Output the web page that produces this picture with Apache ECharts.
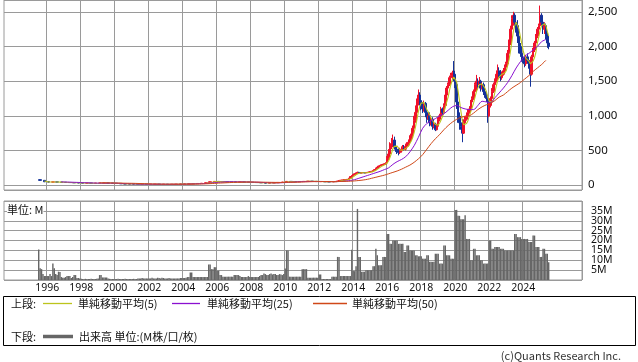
<!DOCTYPE html>
<html><head><meta charset="utf-8">
<script src="https://cdn.jsdelivr.net/npm/echarts@6/dist/echarts.min.js"></script>
<style>html,body{margin:0;padding:0;background:#fff}#c{width:638px;height:362px}</style>
</head><body><div id="c"></div>
<script>
// ---- axis categories: months 1993-07 .. 2027-06
const axisStart = [1993, 7];
const axisMonths = 408;
const yearLabels = [1996,1998,2000,2002,2004,2006,2008,2010,2012,2014,2016,2018,2020,2022,2024];
const priceTicks = [0,500,1000,1500,2000,2500];
const volumeTicks = [5,10,15,20,25,30,35];

// ---- early candles (quarterly, starting 1995-08)
const earlyStart = [1995, 8];
const earlyOpen  = [80,70,50,45,48,45,42,40,38,35,33,30,30,28,30,30,32,30,28,25,20,18,17,16,15,15,14,14,14,13,13,12,13,15,17,18,20,22,25,28,35,50,55,52,50,48,46,45,45,44,42,40,38,35,30,32,35,40,45,55,52,50,52,55,58,55,52,52,50,48];
const earlyClose = [70,50,45,48,45,42,40,38,35,33,30,30,28,30,30,32,30,28,25,20,18,17,16,15,15,14,14,14,13,13,12,13,15,17,18,20,22,25,28,35,50,55,52,50,48,46,45,45,44,42,40,38,35,30,32,35,40,45,55,52,50,52,55,58,55,52,52,50,48,52];
const earlyLow   = [65,45,40,42,42,38,36,34,32,30,28,27,26,27,28,28,28,26,23,18,16,15,14,14,13,13,12,12,12,11,11,11,12,14,16,17,19,21,24,27,33,48,50,48,46,44,43,43,42,40,38,35,32,28,29,33,38,43,50,50,48,49,52,54,52,50,50,47,46,47];
const earlyHigh  = [85,72,52,50,50,47,44,42,40,37,35,33,31,32,33,34,34,32,29,26,22,20,18,17,17,16,16,16,15,15,14,14,16,18,20,22,24,27,30,38,54,58,57,54,51,50,48,48,47,46,44,42,39,36,35,38,42,48,58,57,54,55,58,61,60,56,55,54,52,54];

// ---- monthly candles from 2013-01 to 2025-07
const mainStart = [2013, 1];
const open = [
52,55,60,68,72,75,75,78,80,85,100,125,
140,150,165,175,185,180,178,180,182,178,182,185,
190,195,200,210,225,245,260,275,285,295,300,310,
320,380,450,550,600,650,550,520,500,470,500,520,
540,520,560,580,620,680,740,820,930,1050,1200,1300,
1220,1150,1100,1180,1050,950,1000,900,950,850,880,800,
850,950,1000,1100,1050,1150,1300,1400,1450,1550,1580,1620,
1600,1450,1200,950,900,850,750,900,950,1000,1050,1100,
1200,1250,1350,1450,1500,1450,1500,1400,1450,1350,1300,1250,
1000,1150,1250,1350,1450,1500,1600,1650,1600,1550,1600,1650,
1700,1750,1900,2050,2250,2400,2450,2350,2300,2150,2000,1900,
1850,1800,1750,1850,1800,1750,1600,1850,1950,2050,2150,2250,
2300,2450,2350,2250,2300,2150,2050];
const close = [
55,60,68,72,75,75,78,80,85,100,125,140,
150,165,175,185,180,178,180,182,178,182,185,190,
195,200,210,225,245,260,275,285,295,300,310,320,
380,450,550,600,650,550,520,500,470,500,520,540,
520,560,580,620,680,740,820,930,1050,1200,1300,1220,
1150,1100,1180,1050,950,1000,900,950,850,880,800,850,
950,1000,1100,1050,1150,1300,1400,1450,1550,1580,1620,1600,
1450,1200,950,900,850,750,900,950,1000,1050,1100,1200,
1250,1350,1450,1500,1450,1500,1400,1450,1350,1300,1250,1000,
1150,1250,1350,1450,1500,1600,1650,1600,1550,1600,1650,1700,
1750,1900,2050,2250,2400,2450,2350,2300,2150,2000,1900,1850,
1800,1750,1850,1800,1750,1600,1850,1950,2050,2150,2250,2300,
2450,2350,2250,2300,2150,2050,2000];
const low = [
50,53,58,65,70,72,73,75,78,83,97,120,
135,145,160,168,172,170,172,175,172,172,176,180,
185,190,196,205,220,240,255,268,278,285,292,300,
300,360,420,520,560,520,480,450,430,450,470,490,
500,500,540,560,600,650,720,800,900,1000,1150,1150,
1080,1040,1060,980,900,920,850,860,800,820,780,790,
830,920,980,1000,1020,1130,1280,1380,1430,1500,1520,1500,
1400,1100,900,800,800,620,740,880,930,980,1030,1080,
1180,1230,1330,1350,1380,1400,1350,1380,1300,1260,1200,900,
980,1120,1230,1330,1420,1480,1550,1550,1500,1520,1580,1630,
1660,1720,1880,2020,2220,2300,2280,2200,2050,1900,1850,1780,
1760,1700,1720,1750,1680,1420,1580,1820,1920,2020,2120,2220,
2250,2300,2180,2180,2100,1980,1960];
const high = [
58,62,70,75,78,79,80,83,88,105,130,145,
160,170,182,195,192,186,186,188,186,188,192,196,
200,206,215,232,252,266,282,292,302,308,316,330,
420,520,620,680,730,700,600,540,530,540,560,580,
580,600,620,660,720,780,860,1000,1150,1250,1380,1340,
1280,1200,1220,1200,1100,1050,1050,1000,980,920,900,880,
980,1030,1130,1120,1180,1330,1430,1480,1580,1620,1650,1790,
1650,1500,1250,1050,1000,950,950,1000,1050,1100,1140,1230,
1280,1380,1480,1590,1540,1560,1520,1480,1480,1400,1340,1280,
1200,1280,1400,1480,1540,1640,1740,1700,1660,1640,1690,1740,
1780,1950,2100,2300,2450,2500,2480,2420,2380,2200,2050,1930,
1880,1850,1880,1900,1850,1850,1880,1980,2080,2180,2280,2330,
2590,2480,2380,2350,2330,2200,2080];

// ---- moving averages
const ma5EarlyStart = [1995, 11];
const ma5Early = [62,47,46,46,44,42,40,38,36,34,31,30,29,29,30,31,31,29,26,21,19,17,16,15,15,14,14,14,13,13,12,13,15,17,18,20,22,25,28,35,48,54,52,50,48,46,45,45,44,42,40,38,35,31,32,35,40,46,54,52,51,53,55,57,55,53,52,50,50];
const ma5 = [
51,53,57,61,66,70,74,76,79,84,94,106,
120,136,151,163,171,177,180,181,180,180,181,183,
186,190,196,204,215,228,243,258,272,283,293,302,
321,352,402,460,526,560,574,564,538,508,502,506,
510,528,544,564,592,636,688,758,844,948,1060,1140,
1184,1194,1190,1140,1086,1056,1016,970,930,916,876,866,
866,896,940,990,1050,1120,1200,1270,1370,1456,1520,1560,
1560,1490,1364,1220,1070,930,870,870,890,930,1000,1060,
1120,1190,1270,1350,1400,1450,1460,1460,1430,1400,1350,1270,
1210,1190,1200,1240,1340,1430,1510,1560,1580,1600,1610,1620,
1650,1720,1810,1930,2070,2210,2300,2350,2330,2250,2140,2040,
1940,1860,1830,1810,1790,1750,1770,1790,1840,1920,2050,2140,
2240,2300,2320,2330,2300,2220,2150];
const ma25Start = [1996, 11];
const ma25 = [48, 46,44,42,40, 37,35,33,31, 30,30,30,30, 29,26,23,21, 19,17,16,15, 15,14,14,14, 13,13,13,14, 15,16,18,20, 22,25,30,36, 42,46,49,50, 49,48,47,46, 45,43,41,38, 36,35,35,36, 40,44,47,50, 52,53,54,54, 54,53,52,51, 52,56,60,68, 80,100,120,140, 160,180,200,225, 250,300,340,370, 410,480,570,690, 820,890,930,960, 1000,1030,1080,1130, 1150,1120,1100,1090, 1090,1150,1210,1200, 1190,1260,1330,1400, 1480,1580,1690,1780, 1860,1900,1950,2000, 2070,2100];
const ma50Start = [1999, 2];
const ma50 = [35,34,33,32, 31,30,29,28, 27,25,23,21, 19,17,16,15, 15,15,14,14, 15,15,16,17, 18,20,23,26, 30,33,36,39, 42,44,45,46, 46,45,44,43, 42,41,40,40, 41,42,43,45, 47,49,51,52, 53,53,53,53, 53,54,56,58, 62,68,75,85, 100,115,130,145, 165,185,205,230, 260,290,330,380, 440,520,600,670, 730,800,860,910, 950,980,990,1000, 1040,1090,1130,1160, 1180,1220,1270,1300, 1350,1400,1440,1480, 1530,1580,1640,1690, 1740,1800];

// ---- volume (millions), monthly from 1995-07
const volStart = [1995, 7];
const volume = [15.5,6,5.5,3,2,2,
2,2,3,2,8.3,6,3,2.5,4.2,4,1.5,1.2,
1.2,1.5,2,2,2,1,1.5,2.5,2.5,1,1,0.8,
0.6,0.5,0.5,0.6,0.5,0.5,0.5,0.6,0.5,0.5,0.5,0.6,
0.8,2.5,2.5,1.3,1.3,1.3,1.3,0.8,0.6,0.5,0.5,0.5,
0.5,0.5,0.6,0.5,0.5,0.5,0.5,0.6,0.5,0.5,0.5,0.5,
0.5,0.6,0.5,0.5,0.8,0.8,0.8,1,0.8,0.8,0.8,0.8,
0.8,0.8,1.2,0.8,0.8,0.8,1.2,1,0.8,1.2,1,0.8,
0.8,0.8,1,0.8,0.8,0.8,0.8,0.8,0.8,0.8,1,1,
1,1,1.2,1.5,1.5,3.8,3.8,1.5,1.5,1.5,1.5,1.5,
1.5,1.5,1.5,1.5,1.5,1.5,7.8,7.8,5.5,5.5,6.5,6.5,
4.7,4.7,2.5,2.5,1.7,1.7,1.7,1.7,1.7,1.7,1.7,1.7,
2.5,2.5,2.5,2.5,2,1.5,1.5,1.5,1.5,1.5,2,1.5,
1.5,1.5,1.5,1.5,1.5,1.5,2,2.5,2.5,3.3,3,2.5,
2.5,3,3.3,2.8,3,3,2.5,2.5,3,2.8,2.5,3,
5.8,15,15,1.7,1.7,1.7,1.7,1.7,1.7,1.7,1.7,1.7,
5.5,5.5,5.5,5.5,1.2,1.2,1.2,1.2,1.2,1.2,1.2,1.2,
2.8,2.8,0.5,0.5,0.5,0.5,0.5,0.5,0.5,1.7,1.7,1.7,
1.7,11.7,11.7,2,2,2,2,2,2,2,2,15.3,
4.5,4.5,7,36,11.7,11.7,4.2,4.2,4.2,5,5,5,
5,5,7,7,15.8,12.5,7.5,7.5,7.5,11.7,11.7,11.7,
23.3,23.3,18.3,18.3,20,20,20,20,18.3,18.3,18.3,18.3,
14.2,14.2,17.5,17.5,15,15,15,15,12.5,12.5,12,12,
12,10.8,10.8,10.8,12.5,12.5,9.2,9.2,9.2,9.2,13.3,13.3,
13.3,8.3,8.3,8.3,17.5,17.5,12.5,12.5,12.5,10.8,10.8,10.8,
35.5,35.5,32.5,32.5,30.8,30.8,30.8,32.8,20.8,20.8,20.8,10,
10,15.8,15.8,12.5,12.5,12.5,10,10,8.3,8.3,8.3,8.3,
20,20,15.8,15.8,16.7,16.7,16.7,16.7,15.8,15.8,15.8,15,
15,15,15,15,15,15,23.3,23.3,21.7,21.7,21.7,20.8,
20.8,20.8,20.8,20.8,19.2,19.2,19.2,22.5,22.5,16.7,16.7,16.7,
11.7,11.7,15.8,15.8,13.3,13.3,9];

// ---- helpers
function monthLabel(y, m) { return y + '-' + (m < 10 ? '0' : '') + m; }
function labelAt(start, i, step) {
  const t = start[0] * 12 + (start[1] - 1) + i * step;
  return monthLabel(Math.floor(t / 12), (t % 12) + 1);
}
const months = [];
for (let i = 0; i < axisMonths; i++) months.push(labelAt(axisStart, i, 1));

const earlyCandles = earlyClose.map((c, i) => [labelAt(earlyStart, i, 3), earlyOpen[i], c, earlyLow[i], earlyHigh[i]]);
const mainCandles = close.map((c, i) => [labelAt(mainStart, i, 1), open[i], c, low[i], high[i]]);
const ma5Data = ma5Early.map((v, i) => [labelAt(ma5EarlyStart, i, 3), v])
  .concat(ma5.map((v, i) => [labelAt(mainStart, i, 1), v]));
const ma25Data = ma25.map((v, i) => [labelAt(ma25Start, i, 3), v]);
const ma50Data = ma50.map((v, i) => [labelAt(ma50Start, i, 3), v]);
const volData = volume.map((v, i) => [labelAt(volStart, i, 1), v]);

const isYearTick = (idx, val) => {
  const y = +val.slice(0, 4);
  return val.slice(5) === '01' && yearLabels.indexOf(y) >= 0;
};

const gridColor = '#9a9a9a';
const UP = '#f0102a', DOWN = '#14329a';
const C5 = '#bcc41c', C25 = '#8a10d0', C50 = '#d04818';
const numFont = '"Noto Sans", "DejaVu Sans", sans-serif';
const jpFont = '"Noto Sans CJK JP", sans-serif';

const chart = echarts.init(document.getElementById('c'), null, { renderer: 'canvas' });

const catAxis = (gridIndex, showLabel) => ({
  type: 'category', gridIndex, data: months, boundaryGap: true,
  axisLine: { show: false }, axisTick: { show: false },
  axisLabel: showLabel ? {
    show: true, interval: isYearTick, formatter: v => v.slice(0, 4),
    color: '#111', fontSize: 10.5, fontFamily: numFont, margin: 3
  } : { show: false },
  splitLine: { show: true, interval: isYearTick, lineStyle: { color: gridColor, width: 1 } }
});

const legendLine = (x1, x2, y, color, w) => ({
  type: 'line', z: 100, silent: true,
  shape: { x1: x1, y1: y, x2: x2, y2: y },
  style: { stroke: color, lineWidth: w, fill: null }
});
const legendText = (x, y, text) => ({
  type: 'text', x: x, y: y, z: 100, silent: true,
  style: { text: text, font: '11px ' + jpFont, fill: '#111', textVerticalAlign: 'middle', verticalAlign: 'middle' }
});

chart.setOption({
  animation: false,
  backgroundColor: '#fff',
  grid: [
    { left: 4, right: 56, top: 0, height: 190, show: true, borderColor: gridColor, borderWidth: 1, backgroundColor: 'transparent' },
    { left: 4, right: 56, top: 201, height: 79, show: true, borderColor: gridColor, borderWidth: 1, backgroundColor: 'transparent' }
  ],
  xAxis: [catAxis(0, false), catAxis(1, true)],
  yAxis: [
    { type: 'value', gridIndex: 0, position: 'right', min: -69, max: 2670, splitNumber: 5,
      axisLine: { show: false }, axisTick: { show: false },
      axisLabel: { showMinLabel: false, showMaxLabel: false, margin: 6, color: '#111', fontSize: 11.5, fontFamily: numFont,
        formatter: v => priceTicks.indexOf(v) >= 0 ? v.toLocaleString('en-US') : '' },
      splitLine: { show: true, lineStyle: { color: gridColor, width: 1 } } },
    { type: 'value', gridIndex: 1, position: 'right', min: 0, max: 40, interval: 5,
      axisLine: { show: false }, axisTick: { show: false },
      axisLabel: { showMinLabel: false, showMaxLabel: false, margin: 9, color: '#111', fontSize: 10.5, fontFamily: numFont,
        lineHeight: 10, formatter: v => volumeTicks.indexOf(v) >= 0 ? v + 'M' : '' },
      splitLine: { show: true, lineStyle: { color: gridColor, width: 1 } } }
  ],
  series: [
    { type: 'candlestick', name: 'early', xAxisIndex: 0, yAxisIndex: 0, data: earlyCandles,
      encode: { x: 0, y: [1, 2, 3, 4] }, barWidth: 3, clip: false,
      itemStyle: { color: UP, color0: DOWN, borderColor: UP, borderColor0: DOWN, borderWidth: 1 } },
    { type: 'candlestick', name: 'main', xAxisIndex: 0, yAxisIndex: 0, data: mainCandles,
      encode: { x: 0, y: [1, 2, 3, 4] }, barWidth: 2, clip: false,
      itemStyle: { color: UP, color0: DOWN, borderColor: UP, borderColor0: DOWN, borderWidth: 1 } },
    { type: 'line', name: 'MA5', xAxisIndex: 0, yAxisIndex: 0, data: ma5Data, showSymbol: false,
      lineStyle: { color: C5, width: 1.1 }, z: 5 },
    { type: 'line', name: 'MA25', xAxisIndex: 0, yAxisIndex: 0, data: ma25Data, showSymbol: false, smooth: 0.3,
      lineStyle: { color: C25, width: 1 }, z: 6 },
    { type: 'line', name: 'MA50', xAxisIndex: 0, yAxisIndex: 0, data: ma50Data, showSymbol: false, smooth: 0.3,
      lineStyle: { color: C50, width: 1 }, z: 6 },
    { type: 'bar', name: 'volume', xAxisIndex: 1, yAxisIndex: 1, data: volData,
      barCategoryGap: '0%', itemStyle: { color: '#666' } }
  ],
  graphic: [
    { type: 'text', left: 7, top: 204, z: 100,
      style: { text: '単位: M', font: '11px ' + jpFont, fill: '#111', backgroundColor: '#fff' } },
    { type: 'rect', z: 100, silent: true, shape: { x: 3.5, y: 296.5, width: 632, height: 49 }, style: { fill: null, stroke: '#000', lineWidth: 1 } },
    legendText(11, 303.5, '上段:'),
    legendLine(43, 72, 303.5, C5, 1.3),
    legendText(78, 303.5, '単純移動平均(5)'),
    legendLine(172, 200, 303.5, C25, 1.3),
    legendText(207, 303.5, '単純移動平均(25)'),
    legendLine(313, 347, 303.5, C50, 1.3),
    legendText(352, 303.5, '単純移動平均(50)'),
    legendText(11, 336.5, '下段:'),
    legendLine(43, 73, 336.5, '#666', 3.5),
    legendText(79, 336.5, '出来高 単位:(M株/口/枚)'),
    { type: 'text', right: 17, top: 350, style: { text: '(c)Quants Research Inc.', font: '11px ' + jpFont, fill: '#333' } }
  ]
});
</script></body></html>
